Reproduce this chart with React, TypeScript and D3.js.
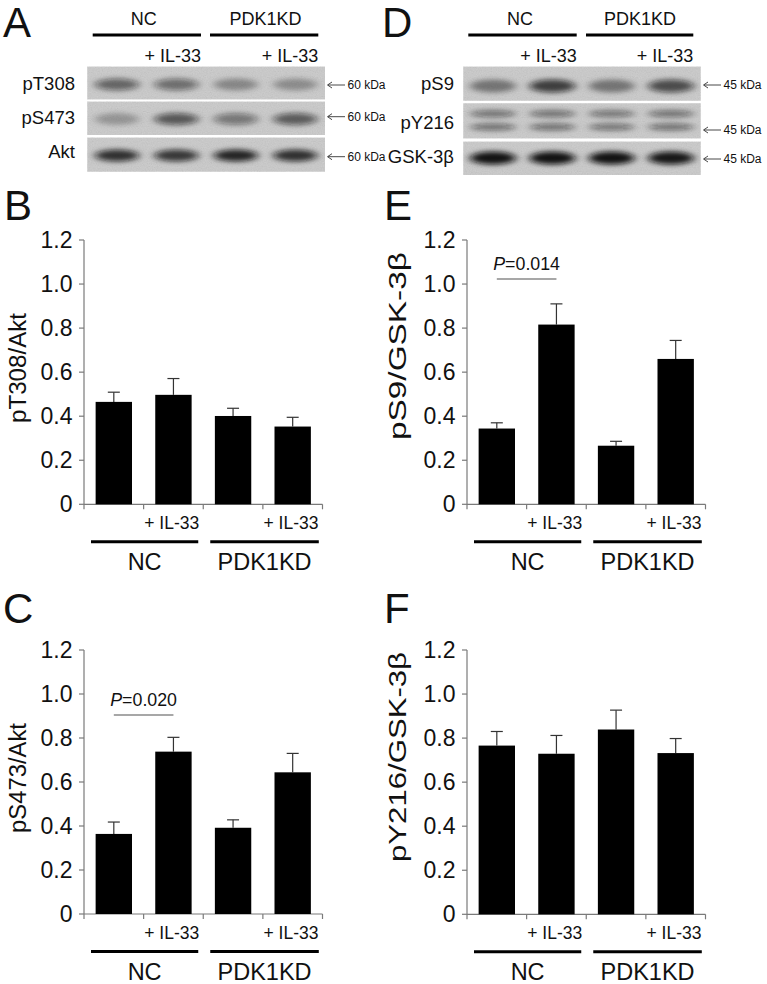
import React from 'react';
import * as d3 from 'd3';

// ---------- data ----------
const conditions = ['NC', 'NC + IL-33', 'PDK1KD', 'PDK1KD + IL-33'];
const groups = ['NC', 'PDK1KD'];
const treatLabel = '+ IL-33';
const yTicks = [0, 0.2, 0.4, 0.6, 0.8, 1.0, 1.2];
const yTickLabels = ['0', '0.2', '0.4', '0.6', '0.8', '1.0', '1.2'];

const pT308Mean = [0.465, 0.497, 0.401, 0.353];
const pT308Sem = [0.044, 0.074, 0.035, 0.042];
const pS473Mean = [0.364, 0.738, 0.392, 0.644];
const pS473Sem = [0.054, 0.065, 0.036, 0.086];
const pS9Mean = [0.344, 0.816, 0.266, 0.66];
const pS9Sem = [0.026, 0.094, 0.02, 0.084];
const pY216Mean = [0.766, 0.729, 0.839, 0.732];
const pY216Sem = [0.064, 0.083, 0.088, 0.066];

// blot band intensities (per lane)
const blotAktRows = ['pT308', 'pS473', 'Akt'];
const blotAktIntensity = [
  [0.55, 0.5, 0.33, 0.3],
  [0.26, 0.62, 0.45, 0.6],
  [0.82, 0.78, 0.88, 0.82],
];
const blotGskRows = ['pS9', 'pY216', 'GSK-3β'];
const blotGskIntensity = [
  [0.42, 0.75, 0.42, 0.68],
  [0.5, 0.5, 0.48, 0.5],
  [0.97, 0.97, 0.97, 0.94],
];
const aktKda = '60 kDa';
const gskKda = '45 kDa';

const FONT = '"Liberation Sans", Arial, Helvetica, sans-serif';

type BarProps = {
  x0: number; x1: number; yTop: number; yBottom: number;
  mean: number[]; sem: number[];
  yLabel: string; yLabelX: number; yLabelCenter: number; yLabelLength: number;
  pText?: string; pLineY?: number;
};

function BarPanel(p: BarProps) {
  const x = d3.scaleBand<string>().domain(conditions).range([p.x0, p.x1]).paddingInner(0.39).paddingOuter(0.195);
  const y = d3.scaleLinear().domain([0, 1.2]).range([p.yBottom, p.yTop]);
  const step = x.step();
  const bw = x.bandwidth();
  const axisColor = '#7a7a7a';
  return (
    <g fontFamily={FONT}>
      {/* y axis */}
      <line x1={p.x0} x2={p.x0} y1={y(1.2)} y2={y(0) + 5} stroke={axisColor} strokeWidth={1.2} />
      {yTicks.map((t, i) => (
        <g key={i}>
          <line x1={p.x0 - 5} x2={p.x0} y1={y(t)} y2={y(t)} stroke={axisColor} strokeWidth={1.2} />
          <text x={p.x0 - 11.5} y={y(t)} textAnchor="end" dominantBaseline="central" fontSize={23} fill="#111">
            {yTickLabels[i]}
          </text>
        </g>
      ))}
      {/* x axis */}
      <line x1={p.x0} x2={p.x1} y1={y(0)} y2={y(0)} stroke={axisColor} strokeWidth={1.2} />
      {d3.range(1, 5).map((i) => (
        <line key={i} x1={p.x0 + i * step} x2={p.x0 + i * step} y1={y(0)} y2={y(0) + 5} stroke={axisColor} strokeWidth={1.2} />
      ))}
      {/* bars */}
      {conditions.map((c, i) => {
        const cx = (x(c) as number) + bw / 2;
        return (
          <g key={c}>
            <line x1={cx} x2={cx} y1={y(p.mean[i])} y2={y(p.mean[i] + p.sem[i])} stroke="#333" strokeWidth={1.2} />
            <line x1={cx - 6} x2={cx + 6} y1={y(p.mean[i] + p.sem[i])} y2={y(p.mean[i] + p.sem[i])} stroke="#333" strokeWidth={1.2} />
            <rect x={x(c)} y={y(p.mean[i])} width={bw} height={y(0) - y(p.mean[i])} fill="#000" />
          </g>
        );
      })}
      {/* treatment labels */}
      {[1, 3].map((i) => (
        <text key={i} x={p.x0 + (i + 1) * step - 4} y={y(0) + 25} textAnchor="end" fontSize={17.5} fill="#111">
          {treatLabel}
        </text>
      ))}
      {/* group bars */}
      {groups.map((g, gi) => {
        const a = p.x0 + 2 * gi * step + 7;
        const b = p.x0 + 2 * (gi + 1) * step - (gi === 0 ? 5 : 3.7);
        return (
          <g key={g}>
            <line x1={a} x2={b} y1={y(0) + 37.5} y2={y(0) + 37.5} stroke="#000" strokeWidth={3} />
            <text x={(a + b) / 2} y={y(0) + 65.5} textAnchor="middle" fontSize={23.5} fill="#111">
              {g}
            </text>
          </g>
        );
      })}
      {/* y label */}
      <text
        transform={`translate(${p.yLabelX},${p.yLabelCenter}) rotate(-90)`}
        textAnchor="middle"
        fontSize={23}
        fill="#111"
        textLength={p.yLabelLength}
        lengthAdjust="spacingAndGlyphs"
      >
        {p.yLabel}
      </text>
      {p.pText && p.pLineY !== undefined && (() => {
        const c1 = (x(conditions[0]) as number) + bw / 2;
        const c2 = (x(conditions[1]) as number) + bw / 2;
        return (
          <g>
            <line x1={c1} x2={c2} y1={p.pLineY} y2={p.pLineY} stroke="#8a8a8a" strokeWidth={1.5} />
            <text x={(c1 + c2) / 2} y={p.pLineY - 9.5} textAnchor="middle" fontSize={17.8} fill="#111">
              <tspan fontStyle="italic">P</tspan>
              {'=' + p.pText}
            </text>
          </g>
        );
      })()}
    </g>
  );
}

type BlotProps = {
  x0: number; x1: number; rows: [number, number][];
  names: string[]; nameBaselines: number[]; nameRight: number;
  intensity: number[][]; bandY: number[][]; bandW: number; bandH: number;
  kda: string; kdaY: number[]; arrowX: number;
  headerCenters: number[]; headerLines: [number, number][];
};

function Blot(p: BlotProps) {
  const lanes = d3.scaleBand<string>().domain(conditions).range([p.x0, p.x1]);
  return (
    <g fontFamily={FONT}>
      {p.headerLines.map((l, i) => (
        <g key={i}>
          <line x1={l[0]} x2={l[1]} y1={35} y2={35} stroke="#000" strokeWidth={3} />
          <text x={p.headerCenters[i]} y={25} textAnchor="middle" fontSize={18} fill="#111">{groups[i]}</text>
          <text x={l[1]} y={61.7} textAnchor="end" fontSize={18} fill="#111">{treatLabel}</text>
        </g>
      ))}
      {p.rows.map((r, ri) => (
        <g key={ri}>
          <rect x={p.x0} y={r[0]} width={p.x1 - p.x0} height={r[1] - r[0]} fill="#cbcbcb" />
          <rect x={p.x0} y={r[0]} width={p.x1 - p.x0} height={r[1] - r[0]} filter="url(#noise)" opacity={0.16} />
          <g filter="url(#bandBlur)">
            {conditions.map((c, li) => {
              const cx = (lanes(c) as number) + lanes.bandwidth() / 2;
              return p.bandY[ri].map((by, bi) => (
                <ellipse key={c + bi} cx={cx} cy={by} rx={p.bandW / 2} ry={(p.bandH * (p.bandY[ri].length > 1 ? 0.55 : 1)) / 2}
                  fill={`rgba(15,15,15,${p.intensity[ri][li]})`} />
              ));
            })}
          </g>
          <text x={p.nameRight} y={p.nameBaselines[ri]} textAnchor="end" fontSize={18.5} fill="#111">{p.names[ri]}</text>
          <line x1={p.arrowX + 2} x2={p.arrowX + 19} y1={p.kdaY[ri]} y2={p.kdaY[ri]} stroke="#333" strokeWidth={0.9} />
          <path d={`M${p.arrowX + 6},${p.kdaY[ri] - 3} L${p.arrowX + 1.5},${p.kdaY[ri]} L${p.arrowX + 6},${p.kdaY[ri] + 3}`} fill="none" stroke="#333" strokeWidth={0.9} />
          <text x={p.arrowX + 21.5} y={p.kdaY[ri]} dominantBaseline="central" fontSize={12} fill="#111">{p.kda}</text>
        </g>
      ))}
    </g>
  );
}

export default function App() {
  return (
    <svg width={767} height={984} style={{ position: 'absolute', left: 0, top: 0, background: '#fff' }}>
      <defs>
        <filter id="noise" x="0" y="0" width="100%" height="100%">
          <feTurbulence type="fractalNoise" baseFrequency="0.8" numOctaves={2} seed={4} />
          <feColorMatrix type="matrix" values="0.33 0.33 0.33 0 0  0.33 0.33 0.33 0 0  0.33 0.33 0.33 0 0  0 0 0 0 1" />
        </filter>
        <filter id="bandBlur" x="-20%" y="-50%" width="140%" height="200%">
          <feGaussianBlur stdDeviation="4 2.6" />
        </filter>
      </defs>
      <rect width={767} height={984} fill="#fff" />

      {/* panel letters */}
      <g fontFamily={FONT} fontSize={42} fill="#111">
        <text x={3} y={36.7}>A</text>
        <text x={382} y={36.7}>D</text>
        <text x={4} y={220}>B</text>
        <text x={384} y={220}>E</text>
        <text x={3} y={623.3}>C</text>
        <text x={384} y={623}>F</text>
      </g>

      <Blot
        x0={87.3} x1={325}
        rows={[[66.7, 99.3], [101.7, 135], [137.7, 171.7]]}
        names={blotAktRows} nameBaselines={[89.5, 123.5, 157.5]} nameRight={75}
        intensity={blotAktIntensity} bandY={[[84.5], [119], [155.5]]} bandW={44} bandH={12}
        kda={aktKda} kdaY={[85, 116.7, 156.7]} arrowX={326}
        headerCenters={[143.7, 265.5]} headerLines={[[92.7, 201], [210, 318.3]]}
      />
      <Blot
        x0={463.3} x1={700.7}
        rows={[[66.7, 100.7], [103.3, 138.3], [141.7, 175]]}
        names={blotGskRows} nameBaselines={[90, 128.5, 163]} nameRight={454}
        intensity={blotGskIntensity} bandY={[[86], [113.7, 127], [158]]} bandW={46} bandH={13}
        kda={gskKda} kdaY={[85, 130, 159]} arrowX={702}
        headerCenters={[520, 640]} headerLines={[[468.3, 576.7], [586, 693.3]]}
      />

      <BarPanel x0={84} x1={322.5} yTop={240} yBottom={504.3} mean={pT308Mean} sem={pT308Sem}
        yLabel="pT308/Akt" yLabelX={26} yLabelCenter={368} yLabelLength={110} />
      <BarPanel x0={84} x1={322.5} yTop={650} yBottom={914} mean={pS473Mean} sem={pS473Sem}
        yLabel="pS473/Akt" yLabelX={26} yLabelCenter={778} yLabelLength={110} pText="0.020" pLineY={715} />
      <BarPanel x0={467} x1={705.5} yTop={240} yBottom={504.3} mean={pS9Mean} sem={pS9Sem}
        yLabel="pS9/GSK-3β" yLabelX={406} yLabelCenter={346} yLabelLength={188} pText="0.014" pLineY={279} />
      <BarPanel x0={467} x1={705.5} yTop={650} yBottom={914.3} mean={pY216Mean} sem={pY216Sem}
        yLabel="pY216/GSK-3β" yLabelX={406} yLabelCenter={757} yLabelLength={210} />
    </svg>
  );
}
